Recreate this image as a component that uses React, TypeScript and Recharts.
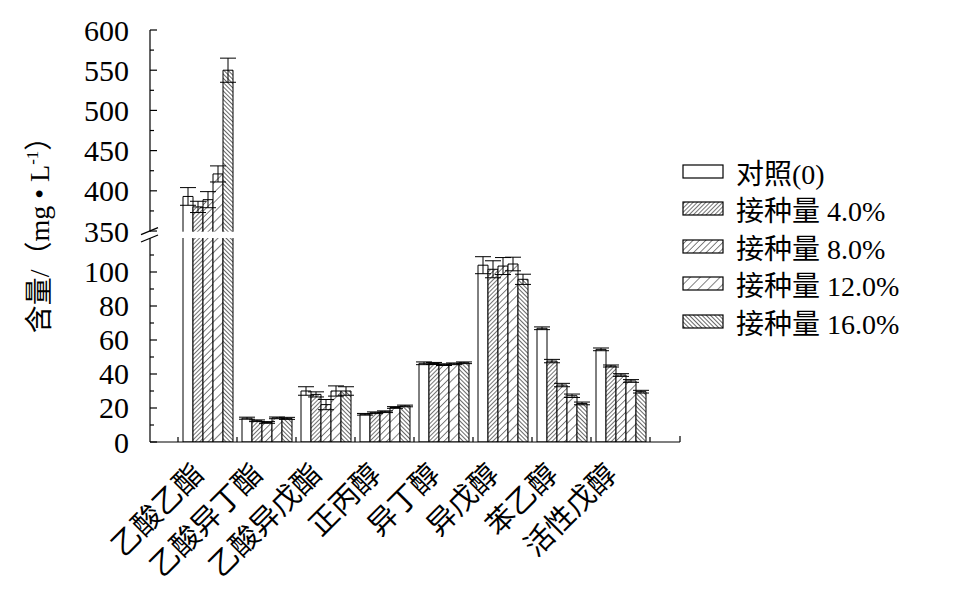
import React from 'react';
import { BarChart, Bar, XAxis, YAxis, ErrorBar, ReferenceArea, Legend } from 'recharts';

const categories = ['乙酸乙酯', '乙酸异丁酯', '乙酸异戊酯', '正丙醇', '异丁醇', '异戊醇', '苯乙醇', '活性戊醇'];
const seriesNames = ['对照(0)', '接种量 4.0%', '接种量 8.0%', '接种量 12.0%', '接种量 16.0%'];

const control = [393, 14, 30, 16.3, 46.3, 104, 66.9, 54.5];
const inoc4 = [380, 12.5, 28, 17.2, 46.2, 101.6, 47.6, 44.7];
const inoc8 = [389, 11.5, 22, 17.8, 45.5, 103.5, 33.5, 39.4];
const inoc12 = [421, 14.2, 30, 20.3, 46, 104.7, 27.2, 35.9];
const inoc16 = [550, 13.9, 30, 21.2, 46.6, 95.7, 22.7, 29.6];

const errControl = [11, 0.6, 2.5, 0.5, 0.8, 5, 0.8, 0.8];
const err4 = [7, 0.5, 1.5, 0.5, 0.6, 5, 1, 0.6];
const err8 = [10, 0.5, 3, 0.5, 0.5, 5, 1, 0.8];
const err12 = [10, 0.5, 3, 0.5, 0.5, 4, 1, 0.8];
const err16 = [15, 0.6, 2.5, 0.5, 0.5, 3, 0.8, 0.8];

const lowerTicks = [0, 10, 20, 30, 40, 50, 60, 70, 80, 90, 100, 110];
const upperTicks = [350, 375, 400, 425, 450, 475, 500, 525, 550, 575, 600];
const majorTicks = [0, 20, 40, 60, 80, 100, 350, 400, 450, 500, 550, 600];

// broken-axis mapping
const SPLIT_VALUE = 350;
const SPLIT_T = 124.1;
const UPPER_RATIO = 0.473;
const toT = (v: number) => (v >= SPLIT_VALUE ? SPLIT_T + (v - SPLIT_VALUE) * UPPER_RATIO : v);
const errT = (v: number, e: number) => (v >= SPLIT_VALUE ? e * UPPER_RATIO : e);
const T_MAX = toT(600);
const GAP_LOW_T = 120;
const GAP_HIGH_T = 123.7;

const seriesValues = [control, inoc4, inoc8, inoc12, inoc16];
const seriesErrors = [errControl, err4, err8, err12, err16];
const fills = ['#ffffff', 'url(#hatch4)', 'url(#hatch8)', 'url(#hatch12)', 'url(#hatch16)'];

const data = categories.map((name, i) => {
  const row: Record<string, any> = { name };
  seriesValues.forEach((arr, s) => {
    row[`v${s}`] = toT(arr[i]);
    row[`e${s}`] = errT(arr[i], seriesErrors[s][i]);
  });
  return row;
});

const allTicksT = [...lowerTicks, ...upperTicks].map(toT);
const tickInfo = [...lowerTicks, ...upperTicks].map((v) => ({ t: toT(v), v, major: majorTicks.includes(v) }));

const FONT = "'Liberation Serif', 'Times New Roman', 'Noto Sans CJK SC', serif";

const W = 954;
const H = 612;
const MARGIN = { top: 30, right: 274, bottom: 0, left: 0 };
const Y_W = 150;
const X_H = 170;
const PAD_L = 28;
const PAD_R = 30;
const PLOT_W = W - MARGIN.left - MARGIN.right - Y_W;
const HALF_BAND = (PLOT_W - PAD_L - PAD_R) / categories.length / 2;

const YTick = (props: any) => {
  const { x, y, payload } = props;
  const info = tickInfo.find((d) => Math.abs(d.t - payload.value) < 1e-6);
  if (!info) return null;
  const len = info.major ? 7 : 4;
  return (
    <g>
      <line x1={x} y1={y} x2={x + len} y2={y} stroke="#000" strokeWidth={1.2} />
      {info.major && (
        <text x={x - 21} y={y} dy="0.35em" textAnchor="end" fontFamily={FONT} fontSize={30} fill="#000">
          {info.v}
        </text>
      )}
    </g>
  );
};

const XTick = (props: any) => {
  const { x, y, payload, index } = props;
  const last = index === categories.length - 1;
  const tx = x - 2;
  const ty = y + 34;
  return (
    <g>
      <line x1={x - HALF_BAND} y1={y} x2={x - HALF_BAND} y2={y - 5} stroke="#000" strokeWidth={1.2} />
      {last && <line x1={x + HALF_BAND} y1={y} x2={x + HALF_BAND} y2={y - 5} stroke="#000" strokeWidth={1.2} />}
      {last && <line x1={x + HALF_BAND + PAD_R} y1={y} x2={x + HALF_BAND + PAD_R} y2={y - 6} stroke="#000" strokeWidth={1.2} />}
      <text x={tx} y={ty} transform={`rotate(-45, ${tx}, ${ty})`} textAnchor="end" fontFamily={FONT} fontSize={29} fill="#000">
        {payload.value}
      </text>
    </g>
  );
};

const BreakShape = (props: any) => {
  const { x, y, width, height } = props;
  const ax = x - PAD_L;
  const top = y;
  const bot = y + height;
  return (
    <g>
      <rect x={ax - 3} y={top} width={width + PAD_L + PAD_R + 3} height={height} fill="#ffffff" stroke="none" />
      <line x1={ax - 9} y1={top + 3} x2={ax + 8} y2={top - 4} stroke="#000" strokeWidth={1.3} />
      <line x1={ax - 9} y1={bot + 4} x2={ax + 8} y2={bot - 3} stroke="#000" strokeWidth={1.3} />
    </g>
  );
};

const YLabel = (props: any) => {
  const vb = props.viewBox || { x: 0, y: 30, width: 150, height: 412 };
  const cx = vb.x + 49;
  const cy = vb.y + vb.height / 2 - 8;
  return (
    <text x={cx} y={cy} transform={`rotate(-90, ${cx}, ${cy})`} textAnchor="middle" fontFamily={FONT} fontSize={28} fill="#000">
      <tspan>含量/（mg • L</tspan>
      <tspan dy={-11} fontSize={17}>-1</tspan>
      <tspan dy={11}>）</tspan>
    </text>
  );
};

const LegendContent = () => (
  <div style={{ fontFamily: FONT, fontSize: 28, color: '#000', textAlign: 'left' }}>
    {seriesNames.map((n, s) => (
      <div key={n} style={{ display: 'flex', alignItems: 'center', height: 37.5, whiteSpace: 'nowrap' }}>
        <svg width={44} height={18} style={{ marginRight: 10 }}>
          <rect x={1} y={2} width={40} height={13} fill={fills[s]} stroke="#000" strokeWidth={1.2} />
        </svg>
        <span>{n}</span>
      </div>
    ))}
  </div>
);

export default function App() {
  return (
    <div style={{ width: W, height: H, background: '#fff' }}>
      <style>{`body{margin:0;background:#fff;}`}</style>
      <BarChart width={W} height={H} data={data} margin={MARGIN} barCategoryGap={5} barGap={0}>
        <defs>
          <pattern id="hatch4" patternUnits="userSpaceOnUse" width={3} height={3} patternTransform="rotate(45)">
            <rect width={3} height={3} fill="#fff" />
            <line x1={0} y1={0} x2={0} y2={3} stroke="#000" strokeWidth={1.1} />
          </pattern>
          <pattern id="hatch8" patternUnits="userSpaceOnUse" width={4.5} height={4.5} patternTransform="rotate(45)">
            <rect width={4.5} height={4.5} fill="#fff" />
            <line x1={0} y1={0} x2={0} y2={4.5} stroke="#000" strokeWidth={1} />
          </pattern>
          <pattern id="hatch12" patternUnits="userSpaceOnUse" width={7} height={7} patternTransform="rotate(45)">
            <rect width={7} height={7} fill="#fff" />
            <line x1={0} y1={0} x2={0} y2={7} stroke="#000" strokeWidth={1} />
          </pattern>
          <pattern id="hatch16" patternUnits="userSpaceOnUse" width={3} height={3} patternTransform="rotate(-45)">
            <rect width={3} height={3} fill="#fff" />
            <line x1={0} y1={0} x2={0} y2={3} stroke="#000" strokeWidth={1.2} />
          </pattern>
        </defs>
        <XAxis
          dataKey="name"
          type="category"
          height={X_H}
          interval={0}
          padding={{ left: PAD_L, right: PAD_R }}
          tickSize={0}
          tickMargin={0}
          tickLine={false}
          axisLine={{ stroke: '#000', strokeWidth: 1.2 }}
          tick={(p: any) => <XTick {...p} />}
        />
        <YAxis
          type="number"
          domain={[0, T_MAX]}
          ticks={allTicksT}
          interval={0}
          width={Y_W}
          tickSize={0}
          tickMargin={0}
          tickLine={false}
          axisLine={{ stroke: '#000', strokeWidth: 1.2 }}
          tick={(p: any) => <YTick {...p} />}
          label={<YLabel />}
          allowDataOverflow
        />
        {seriesNames.map((n, s) => (
          <Bar key={n} dataKey={`v${s}`} name={n} fill={fills[s]} stroke="#000" strokeWidth={1} isAnimationActive={false}>
            <ErrorBar dataKey={`e${s}`} width={8} stroke="#000" strokeWidth={1} direction="y" isAnimationActive={false} />
          </Bar>
        ))}
        <ReferenceArea y1={GAP_LOW_T} y2={GAP_HIGH_T} shape={(p: any) => <BreakShape {...p} />} ifOverflow="visible" zIndex={1000} />
        <Legend
          layout="horizontal"
          align="center"
          verticalAlign="middle"
          content={() => <LegendContent />}
          wrapperStyle={{ position: 'absolute', left: 682, top: 153, width: 270 }}
        />
      </BarChart>
    </div>
  );
}
